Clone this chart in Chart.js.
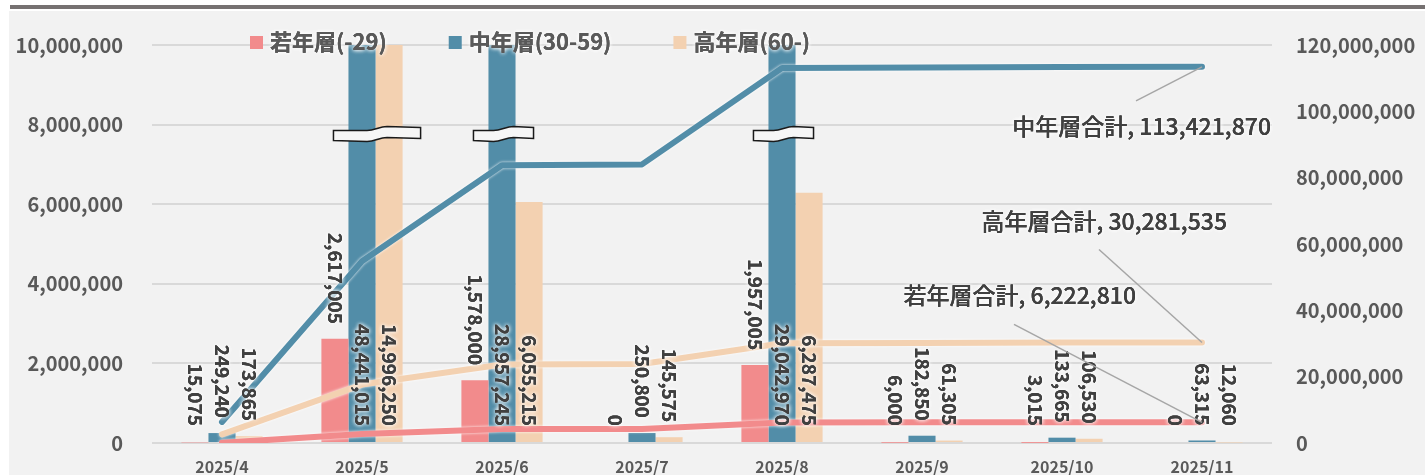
<!DOCTYPE html>
<html>
<head>
<meta charset="utf-8">
<script src="https://cdn.jsdelivr.net/npm/chart.js@4.4.1/dist/chart.umd.min.js"></script>
<style>
  body { margin: 0; background: #fff; overflow: hidden; }
  #wrap { width: 1425px; height: 475px; }
</style>
</head>
<body>
<div id="wrap"><canvas id="ageChart"></canvas></div>
<script>
// --- données ---
const months = ['2025/4', '2025/5', '2025/6', '2025/7', '2025/8', '2025/9', '2025/10', '2025/11'];
const groupNames = ['若年層(-29)', '中年層(30-59)', '高年層(60-)'];
const totalNames = ['若年層合計', '中年層合計', '高年層合計'];

const young  = [15075, 2617005, 1578000, 0, 1957005, 6000, 3015, 0];
const middle = [249240, 48441015, 28957245, 250800, 29042970, 182850, 133665, 63315];
const senior = [173865, 14996250, 6055215, 145575, 6287475, 61305, 106530, 12060];

// cumulés (axe droit)
const youngTotal  = [61785, 2678790, 4256790, 4256790, 6213795, 6219795, 6222810, 6222810];
const middleTotal = [6350010, 54791025, 83748270, 83999070, 113042040, 113224890, 113358555, 113421870];
const seniorTotal = [2617125, 17613375, 23668590, 23814165, 30101640, 30162945, 30269475, 30281535];

const leftTicks  = { max: 10000000, step: 2000000 };
const rightTicks = { max: 120000000, step: 20000000 };

const colors = ['#F28B8C', '#528DA8', '#F3D1B1'];
const FONT = "'Noto Sans CJK JP', 'Noto Sans', sans-serif";
const fmt = v => v.toLocaleString('en-US');

Chart.defaults.font.family = FONT;

// fond + bandeau gris en haut
const backdrop = {
    id: 'backdrop',
    beforeDraw(chart) {
        const ctx = chart.ctx;
        ctx.save();
        ctx.fillStyle = '#ffffff';
        ctx.fillRect(0, 0, chart.width, chart.height);
        ctx.fillStyle = '#f2f2f2';
        ctx.fillRect(9, 11, chart.width - 9, chart.height - 11);
        ctx.fillStyle = '#767171';
        ctx.fillRect(10, 5, chart.width - 10, 4);
        ctx.restore();
    }
};

// halo blanc autour des courbes
const lineGlow = {
    id: 'lineGlow',
    beforeDatasetDraw(chart, args) {
        if (args.meta.type !== 'line') return;
        chart.ctx.save();
        chart.ctx.shadowColor = 'rgba(255,255,255,0.95)';
        chart.ctx.shadowBlur = 3;
    },
    afterDatasetDraw(chart, args) {
        if (args.meta.type !== 'line') return;
        chart.ctx.restore();
    }
};

function glowText(ctx, text, x, y) {
    ctx.save();
    ctx.shadowColor = '#ffffff';
    ctx.shadowBlur = 4;
    ctx.fillText(text, x, y);
    ctx.fillText(text, x, y);
    ctx.restore();
    ctx.fillText(text, x, y);
}

// marques de coupure + étiquettes + légende
const overlay = {
    id: 'overlay',
    afterDatasetsDraw(chart) {
        const ctx = chart.ctx;
        const area = chart.chartArea;
        const yScale = chart.scales.y;
        const barMetas = [0, 1, 2].map(i => chart.getDatasetMeta(i));

        // 1. coupures sur les barres qui dépassent
        months.forEach((m, i) => {
            const cut = barMetas.filter(meta => chart.data.datasets[meta.index].data[i] > leftTicks.max)
                .map(meta => meta.data[i]);
            if (!cut.length) return;
            const x0 = Math.min(...cut.map(b => b.x - b.width / 2)) - 15;
            const x1 = Math.max(...cut.map(b => b.x + b.width / 2)) + 18;
            const xm = (x0 + x1) / 2;
            const y = yScale.getPixelForValue(7750000) - 6;
            const h = 11;
            ctx.save();
            ctx.beginPath();
            ctx.moveTo(x0, y + 2);
            ctx.lineTo(xm - 10, y + 2);
            ctx.bezierCurveTo(xm - 2, y + 2, xm + 2, y - 2, xm + 10, y - 2);
            ctx.lineTo(x1, y - 1);
            ctx.lineTo(x1, y - 1 + h);
            ctx.lineTo(xm + 10, y - 2 + h);
            ctx.bezierCurveTo(xm + 2, y - 2 + h, xm - 2, y + 2 + h, xm - 10, y + 2 + h);
            ctx.lineTo(x0, y + 1 + h);
            ctx.closePath();
            ctx.fillStyle = '#f6f6f6';
            ctx.fill();
            ctx.strokeStyle = '#1a1a1a';
            ctx.lineWidth = 1.5;
            ctx.stroke();
            ctx.restore();
        });

        // 2. valeurs verticales des barres
        ctx.save();
        ctx.font = 'bold 19px ' + FONT;
        ctx.fillStyle = '#404040';
        ctx.textAlign = 'right';
        ctx.textBaseline = 'middle';
        barMetas.forEach(meta => {
            const values = chart.data.datasets[meta.index].data;
            meta.data.forEach((bar, i) => {
                const top = Math.max(bar.y, area.top);
                let end = top < 330 ? 426 : Math.min(426, top - 15);
                ctx.save();
                ctx.translate(bar.x, end);
                ctx.rotate(Math.PI / 2);
                glowText(ctx, fmt(values[i]), 0, 0);
                ctx.restore();
            });
        });
        ctx.restore();

        // 3. étiquettes des totaux
        const callouts = [
            { dx: -66, dy: -127, lx: -188, ly: -98 },
            { dx: 69, dy: 59, lx: -66, ly: 34 },
            { dx: 25, dy: -121, lx: -103, ly: -93 }
        ];
        ctx.save();
        ctx.font = '500 23px ' + FONT;
        ctx.fillStyle = '#404040';
        ctx.textAlign = 'right';
        ctx.textBaseline = 'middle';
        [3, 4, 5].forEach((di, k) => {
            const meta = chart.getDatasetMeta(di);
            const last = meta.data[meta.data.length - 1];
            const values = chart.data.datasets[di].data;
            const c = callouts[k];
            ctx.strokeStyle = '#a6a6a6';
            ctx.lineWidth = 1.5;
            ctx.beginPath();
            ctx.moveTo(last.x + c.lx, last.y + c.ly);
            ctx.lineTo(last.x, last.y);
            ctx.stroke();
            glowText(ctx, totalNames[k] + ', ' + fmt(values[values.length - 1]), last.x + c.dx, last.y + c.dy);
        });
        ctx.restore();

        // 4. légende
        ctx.save();
        ctx.font = 'bold 22px ' + FONT;
        ctx.textAlign = 'left';
        ctx.textBaseline = 'middle';
        let lx = 250;
        const ly = 42;
        groupNames.forEach((name, k) => {
            ctx.fillStyle = colors[k];
            ctx.fillRect(lx, ly - 6, 13, 13);
            ctx.fillStyle = '#595959';
            glowText(ctx, name, lx + 20, ly);
            lx += 20 + ctx.measureText(name).width + 62;
        });
        ctx.restore();
    }
};

const barSet = (label, data, k) => ({
    type: 'bar', label, data, yAxisID: 'y', order: 1,
    backgroundColor: colors[k], borderWidth: 0,
    barPercentage: 1, categoryPercentage: 0.58
});
const lineSet = (label, data, k) => ({
    type: 'line', label, data, yAxisID: 'y2', order: 0,
    borderColor: colors[k], borderWidth: 6, pointRadius: 0, tension: 0,
    borderCapStyle: 'round', borderJoinStyle: 'round', fill: false
});

new Chart(document.getElementById('ageChart'), {
    data: {
        labels: months,
        datasets: [
            barSet(groupNames[0], young, 0),
            barSet(groupNames[1], middle, 1),
            barSet(groupNames[2], senior, 2),
            lineSet(totalNames[0], youngTotal, 0),
            lineSet(totalNames[1], middleTotal, 1),
            lineSet(totalNames[2], seniorTotal, 2)
        ]
    },
    options: {
        responsive: true,
        maintainAspectRatio: false,
        animation: false,
        layout: { autoPadding: false, padding: { top: 45, left: 0, right: 0, bottom: 0 } },
        plugins: { legend: { display: false }, tooltip: { enabled: false } },
        scales: {
            x: {
                grid: { display: false, drawTicks: false },
                border: { display: false },
                ticks: { color: '#595959', font: { size: 16, weight: 'bold' }, padding: 14, maxRotation: 0 },
                afterFit: s => { s.height = 32; }
            },
            y: {
                position: 'left', min: 0, max: leftTicks.max,
                grid: { color: '#d9d9d9', lineWidth: 2, drawTicks: true, tickLength: 26, tickColor: 'transparent' },
                border: { display: false },
                ticks: { stepSize: leftTicks.step, color: '#595959', font: { size: 20, weight: 'bold' }, padding: 3, callback: v => fmt(v) },
                afterFit: s => { s.width = 152; }
            },
            y2: {
                position: 'right', min: 0, max: rightTicks.max,
                grid: { display: false, drawTicks: true, tickLength: 21, tickColor: 'transparent' },
                border: { display: false },
                ticks: { stepSize: rightTicks.step, color: '#595959', font: { size: 20, weight: 'bold' }, padding: 3, callback: v => fmt(v) },
                afterFit: s => { s.width = 153; }
            }
        }
    },
    plugins: [backdrop, lineGlow, overlay]
});
</script>
</body>
</html>
